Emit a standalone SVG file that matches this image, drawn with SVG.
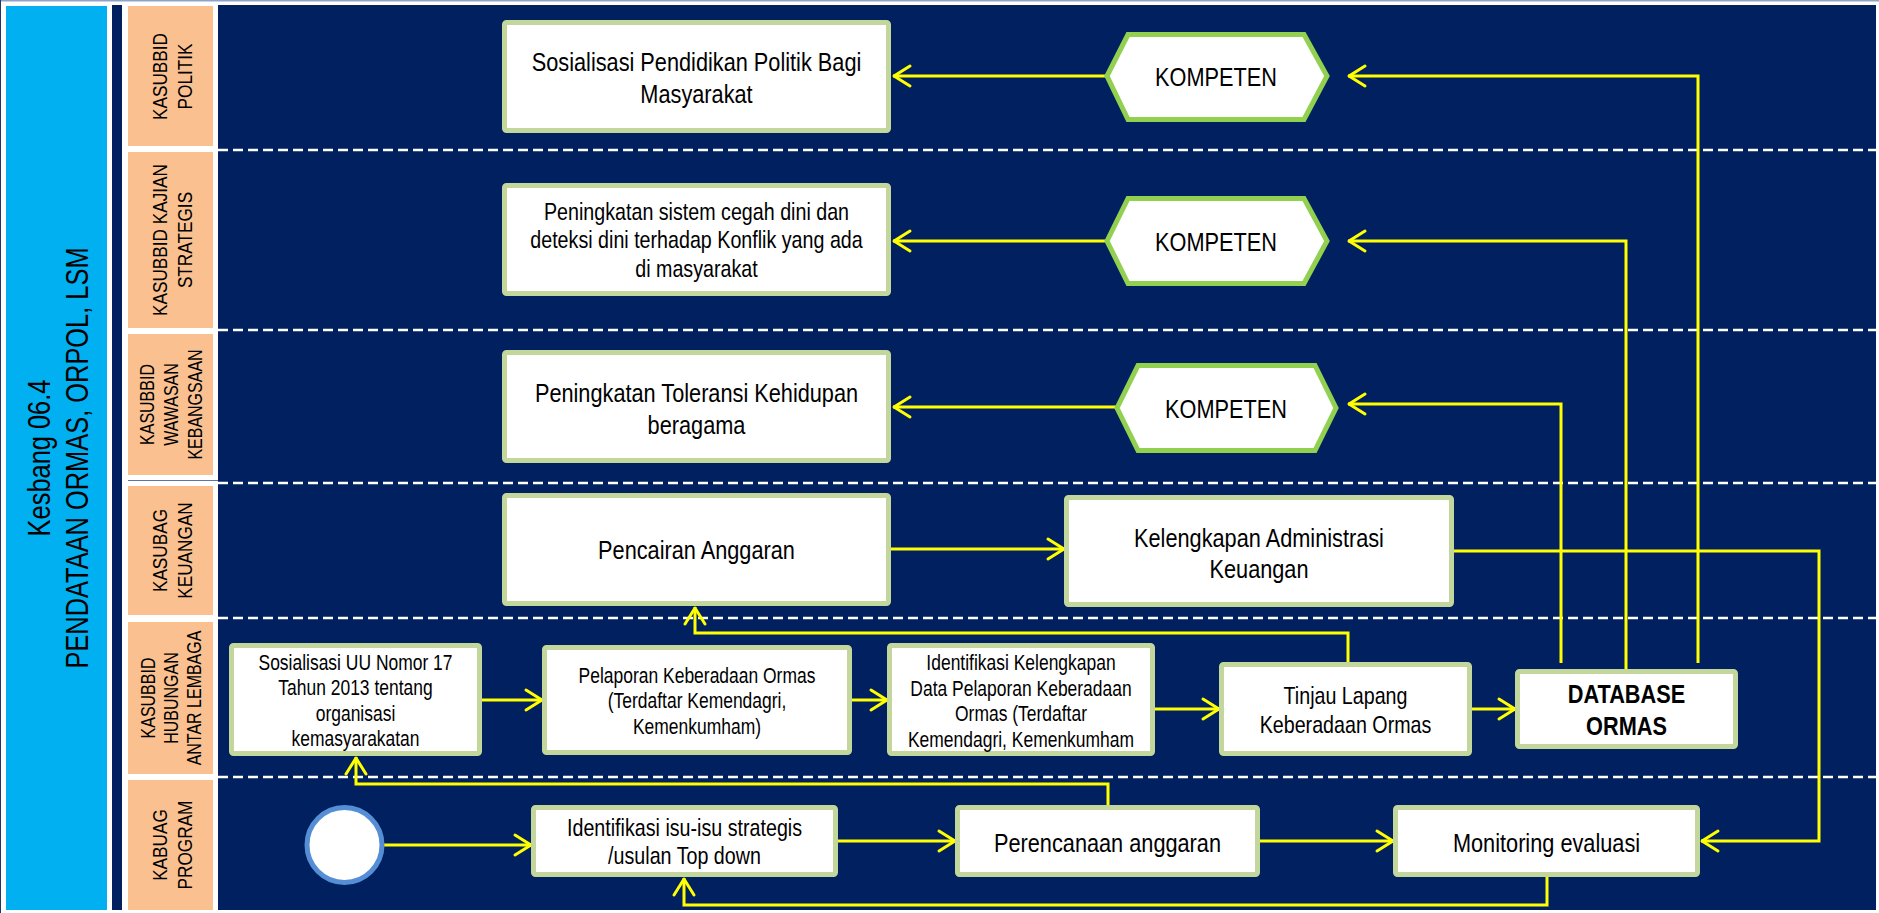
<svg xmlns="http://www.w3.org/2000/svg" width="1879" height="913" viewBox="0 0 1879 913">
<style>
.t{font-family:"Liberation Sans",Arial,sans-serif;fill:#000;text-anchor:middle}
.f26{font-size:26.5px}
.f24{font-size:24px}
.f21{font-size:21.3px}
.hd{font-size:21px}
.hd3{font-size:19.5px}
.ttl{font-size:31px}
.box{fill:#fff;stroke:#c3d69b;stroke-width:5}
.hex{fill:#fff;stroke:#92d050;stroke-width:5;stroke-linejoin:miter}
.lane{fill:#fac090}
.dash{stroke:#fff;stroke-width:2.5;stroke-dasharray:10 5;fill:none}
.ca{fill:none;stroke:#ffff00;stroke-width:3;marker-end:url(#ah)}
</style>
<defs>
<marker id="ah" viewBox="-20 -13 22 26" refX="0" refY="0" markerWidth="22" markerHeight="26" markerUnits="userSpaceOnUse" orient="auto">
<path d="M-17,-10 L-1,0 L-17,10" fill="none" stroke="#ffff00" stroke-width="3" stroke-linejoin="round" stroke-linecap="round"/>
</marker>
</defs>
<rect x="0" y="0" width="1879" height="913" fill="#fff"/>
<line x1="0" y1="0.8" x2="1879" y2="0.8" stroke="#8ea3c8" stroke-width="1.6"/>
<rect x="112" y="5" width="1764" height="905" fill="#002060"/>
<rect x="122" y="5" width="96" height="905" fill="#fff"/>
<line x1="0.5" y1="0" x2="0.5" y2="913" stroke="#1f3864" stroke-width="1"/>
<g id="title">
<rect x="6" y="6" width="101" height="904" fill="#00b0f0"/>
<text class="t ttl" transform="translate(50,458) rotate(-90) scale(0.82,1)">Kesbang 06.4</text>
<text class="t ttl" transform="translate(88,458) rotate(-90) scale(0.82,1)">PENDATAAN ORMAS, ORPOL, LSM</text>
</g>
<g id="lanes">
<rect class="lane" x="128" y="6" width="85" height="140"/>
<rect class="lane" x="128" y="152" width="85" height="176"/>
<rect class="lane" x="128" y="334" width="85" height="141"/>
<rect class="lane" x="128" y="486" width="85" height="129"/>
<rect class="lane" x="128" y="622" width="85" height="152"/>
<rect class="lane" x="128" y="780" width="85" height="130"/>
<line x1="128" y1="480.5" x2="218" y2="480.5" stroke="#5a74a8" stroke-width="1"/>
<text class="t hd" transform="translate(167,76.5) rotate(-90) scale(0.82,1)"><tspan x="0" y="0">KASUBBID</tspan><tspan x="0" y="25">POLITIK</tspan></text>
<text class="t hd" transform="translate(167,240) rotate(-90) scale(0.82,1)"><tspan x="0" y="0">KASUBBID KAJIAN</tspan><tspan x="0" y="25">STRATEGIS</tspan></text>
<text class="t hd3" transform="translate(154,404.5) rotate(-90) scale(0.82,1)"><tspan x="0" y="0">KASUBBID</tspan><tspan x="0" y="24">WAWASAN</tspan><tspan x="0" y="48">KEBANGSAAN</tspan></text>
<text class="t hd" transform="translate(167,550.5) rotate(-90) scale(0.82,1)"><tspan x="0" y="0">KASUBAG</tspan><tspan x="0" y="25">KEUANGAN</tspan></text>
<text class="t hd3" transform="translate(155,698) rotate(-90) scale(0.82,1)"><tspan x="0" y="0">KASUBBID</tspan><tspan x="0" y="23">HUBUNGAN</tspan><tspan x="0" y="46">ANTAR LEMBAGA</tspan></text>
<text class="t hd" transform="translate(167,845) rotate(-90) scale(0.82,1)"><tspan x="0" y="0">KABUAG</tspan><tspan x="0" y="25">PROGRAM</tspan></text>
</g>
<g id="separators">
<line class="dash" x1="218" y1="150" x2="1876" y2="150"/>
<line class="dash" x1="218" y1="330" x2="1876" y2="330"/>
<line class="dash" x1="218" y1="483" x2="1876" y2="483"/>
<line class="dash" x1="218" y1="618" x2="1876" y2="618"/>
<line class="dash" x1="218" y1="777" x2="1876" y2="777"/>
</g>
<g id="connectors">
<line class="ca" x1="1107" y1="76" x2="893" y2="76"/>
<line class="ca" x1="1107" y1="241" x2="893" y2="241"/>
<line class="ca" x1="1117" y1="407" x2="893" y2="407"/>
<polyline class="ca" points="1698,663 1698,76 1348,76"/>
<polyline class="ca" points="1626,669 1626,241 1348,241"/>
<polyline class="ca" points="1561,663 1561,404 1348,404"/>
<line class="ca" x1="891" y1="549" x2="1065" y2="549"/>
<polyline class="ca" points="1454,551 1819,551 1819,841 1701,841"/>
<line class="ca" x1="384" y1="845" x2="532" y2="845"/>
<line class="ca" x1="838" y1="841" x2="956" y2="841"/>
<line class="ca" x1="1260" y1="841" x2="1394" y2="841"/>
<polyline class="ca" points="1547,877 1547,905 684,905 684,878"/>
<polyline class="ca" points="1108,805 1108,784 356,784 356,757"/>
<line class="ca" x1="482" y1="700" x2="543" y2="700"/>
<line class="ca" x1="852" y1="700" x2="888" y2="700"/>
<line class="ca" x1="1155" y1="709" x2="1220" y2="709"/>
<line class="ca" x1="1472" y1="709" x2="1516" y2="709"/>
<polyline class="ca" points="1348,662 1348,633 695,633 695,607"/>
</g>
<g id="n-sosialisasi-politik">
<rect class="box" x="504.5" y="22.5" width="384" height="108" rx="2"/>
<text class="t f26" transform="translate(696.5,0) scale(0.82,1)"><tspan x="0" y="71">Sosialisasi Pendidikan Politik Bagi</tspan><tspan x="0" y="103">Masyarakat</tspan></text>
</g>
<g id="n-peningkatan-sistem">
<rect class="box" x="504.5" y="185.5" width="384" height="108" rx="2"/>
<text class="t f24" transform="translate(696.5,0) scale(0.82,1)"><tspan x="0" y="220">Peningkatan sistem cegah dini dan</tspan><tspan x="0" y="248.5">deteksi dini terhadap Konflik yang ada</tspan><tspan x="0" y="277">di masyarakat</tspan></text>
</g>
<g id="n-peningkatan-toleransi">
<rect class="box" x="504.5" y="352.5" width="384" height="108" rx="2"/>
<text class="t f26" transform="translate(696.5,0) scale(0.82,1)"><tspan x="0" y="402">Peningkatan Toleransi Kehidupan</tspan><tspan x="0" y="434">beragama</tspan></text>
</g>
<g id="n-kompeten-1">
<polygon class="hex" points="1107,76 1128,34.5 1304,34.5 1327,76 1304,119.5 1128,119.5"/>
<text class="t f26" transform="translate(1216,0) scale(0.82,1)" x="0" y="86">KOMPETEN</text>
</g>
<g id="n-kompeten-2">
<polygon class="hex" points="1107,241 1128,198.5 1304,198.5 1327,241 1304,283.5 1128,283.5"/>
<text class="t f26" transform="translate(1216,0) scale(0.82,1)" x="0" y="251">KOMPETEN</text>
</g>
<g id="n-kompeten-3">
<polygon class="hex" points="1117,408 1138,365.5 1315,365.5 1336,408 1315,450.5 1138,450.5"/>
<text class="t f26" transform="translate(1226,0) scale(0.82,1)" x="0" y="418">KOMPETEN</text>
</g>
<g id="n-pencairan">
<rect class="box" x="504.5" y="495.5" width="384" height="108" rx="2"/>
<text class="t f26" transform="translate(696.5,0) scale(0.82,1)" x="0" y="559">Pencairan Anggaran</text>
</g>
<g id="n-kelengkapan">
<rect class="box" x="1066.5" y="497.5" width="385" height="107" rx="2"/>
<text class="t f26" transform="translate(1259,0) scale(0.82,1)"><tspan x="0" y="547">Kelengkapan Administrasi</tspan><tspan x="0" y="578">Keuangan</tspan></text>
</g>
<g id="n-sosialisasi-uu">
<rect class="box" x="231.5" y="645.5" width="248" height="108" rx="2"/>
<text class="t f21" transform="translate(355.5,0) scale(0.82,1)"><tspan x="0" y="670">Sosialisasi UU Nomor 17</tspan><tspan x="0" y="695.5">Tahun 2013 tentang</tspan><tspan x="0" y="721">organisasi</tspan><tspan x="0" y="746.5">kemasyarakatan</tspan></text>
</g>
<g id="n-pelaporan">
<rect class="box" x="544.5" y="647.5" width="305" height="105" rx="2"/>
<text class="t f21" transform="translate(697,0) scale(0.82,1)"><tspan x="0" y="683">Pelaporan Keberadaan Ormas</tspan><tspan x="0" y="708.5">(Terdaftar Kemendagri,</tspan><tspan x="0" y="734">Kemenkumham)</tspan></text>
</g>
<g id="n-identifikasi-kelengkapan">
<rect class="box" x="889.5" y="645.5" width="263" height="108" rx="2"/>
<text class="t f21" transform="translate(1021,0) scale(0.82,1)"><tspan x="0" y="670">Identifikasi Kelengkapan</tspan><tspan x="0" y="696">Data Pelaporan Keberadaan</tspan><tspan x="0" y="721.5">Ormas (Terdaftar</tspan><tspan x="0" y="747">Kemendagri, Kemenkumham</tspan></text>
</g>
<g id="n-tinjau">
<rect class="box" x="1221.5" y="664.5" width="248" height="89" rx="2"/>
<text class="t f24" transform="translate(1345.5,0) scale(0.82,1)"><tspan x="0" y="704">Tinjau Lapang</tspan><tspan x="0" y="733">Keberadaan Ormas</tspan></text>
</g>
<g id="n-database">
<rect class="box" x="1517.5" y="671.5" width="218" height="75" rx="2"/>
<text class="t f26" font-weight="bold" transform="translate(1626.5,0) scale(0.82,1)"><tspan x="0" y="703">DATABASE</tspan><tspan x="0" y="735">ORMAS</tspan></text>
</g>
<g id="n-start">
<circle cx="344.5" cy="845" r="37.5" fill="#fff" stroke="#558ed5" stroke-width="5"/>
</g>
<g id="n-identifikasi-isu">
<rect class="box" x="533.5" y="807.5" width="302" height="67" rx="2"/>
<text class="t f24" transform="translate(684.5,0) scale(0.82,1)"><tspan x="0" y="836">Identifikasi isu-isu strategis</tspan><tspan x="0" y="864">/usulan Top down</tspan></text>
</g>
<g id="n-perencanaan">
<rect class="box" x="957.5" y="807.5" width="300" height="67" rx="2"/>
<text class="t f26" transform="translate(1107.5,0) scale(0.82,1)" x="0" y="852">Perencanaan anggaran</text>
</g>
<g id="n-monitoring">
<rect class="box" x="1395.5" y="807.5" width="302" height="67" rx="2"/>
<text class="t f26" transform="translate(1546.5,0) scale(0.82,1)" x="0" y="852">Monitoring evaluasi</text>
</g>
</svg>
